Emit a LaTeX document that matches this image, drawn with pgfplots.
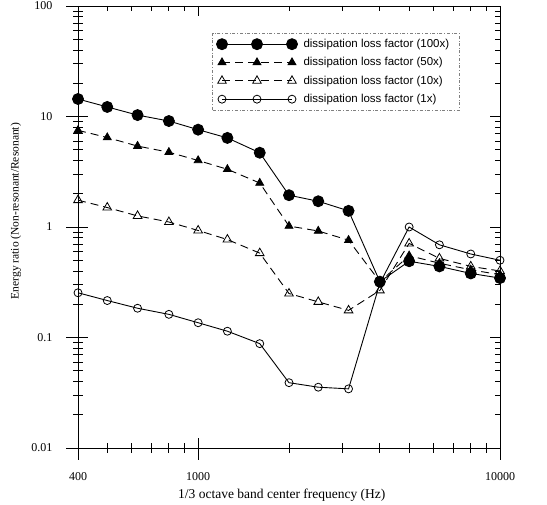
\documentclass[border=0pt]{standalone}
\usepackage{pgfplots}
\pgfplotsset{compat=1.18}
\usepackage{fontspec}
\setmainfont{Liberation Serif}
\newfontfamily\legfont{Liberation Sans}
\begin{document}
\begin{tikzpicture}
\path[use as bounding box] (-78pt,-57pt) rectangle (469pt,448pt);
\begin{axis}[
 at={(0,0)}, anchor=south west,
 scale only axis, width=422pt, height=442pt,
 xmode=log, ymode=log,
 xmin=400, xmax=10000, ymin=0.01, ymax=100,
 xtick={400,1000,10000}, xticklabels={400,1000,10000},
 minor xtick={500,600,700,800,900,2000,3000,4000,5000,6000,7000,8000,9000},
 ytick={0.01,0.1,1,10,100}, yticklabels={0.01,0.1,1,10,100},
 minor ytick={0.02,0.03,0.04,0.05,0.06,0.07,0.08,0.09,0.2,0.3,0.4,0.5,0.6,0.7,0.8,0.9,2,3,4,5,6,7,8,9,20,30,40,50,60,70,80,90},
 xtick pos=bottom, ytick pos=left, tick align=outside,
 major tick length=12pt, minor tick length=5pt,
 tick style={black, line width=0.8pt},
 axis line style={line width=0.9pt},
 ticklabel style={font=\fontsize{12}{13}\selectfont},
 xticklabel style={yshift=-9pt},
 yticklabel style={xshift=-10pt},
 xlabel={1/3 octave band center frequency (Hz)},
 ylabel={Energy ratio (Non-resonant/Resonant)},
 xlabel style={at={(axis description cs:0.483,-0.106)}, anchor=center, font=\fontsize{13.5}{15}\selectfont},
 ylabel style={at={(axis description cs:-0.147,0.536)}, anchor=center, font=\fontsize{11.5}{13}\selectfont},
 legend reversed,
 legend cell align=left,
 legend style={at={(axis description cs:0.318,0.939)}, anchor=north west,
   draw=gray, dash dot, line width=0.6pt, font=\legfont\fontsize{11.5}{13}\selectfont,
   row sep=4.5pt, inner sep=4pt, nodes={inner xsep=6pt}},
 legend image code/.code={\draw[#1] plot coordinates {(0pt,0pt) (35pt,0pt) (70pt,0pt)};},
]
% 1x
\addplot[black, line width=0.9pt, mark=o, mark size=4pt, mark options={solid, line width=0.8pt}] coordinates {
(400,0.254) (500,0.216) (630,0.184) (800,0.162) (1000,0.136) (1250,0.114) (1600,0.088)
(2000,0.039) (2500,0.0355) (3150,0.0343) (4000,0.31) (5000,1.0) (6300,0.69) (8000,0.57) (10000,0.50)};
\addlegendentry{dissipation loss factor (1x)}
% 10x
\addplot[black, line width=0.9pt, dash pattern=on 8pt off 5pt, mark=triangle, mark size=5pt, mark options={solid, fill=white, line width=0.8pt}] coordinates {
(400,1.75) (500,1.50) (630,1.26) (800,1.11) (1000,0.93) (1250,0.77) (1600,0.58)
(2000,0.25) (2500,0.21) (3150,0.176) (4000,0.267) (5000,0.71) (6300,0.52) (8000,0.44) (10000,0.40)};
\addlegendentry{dissipation loss factor (10x)}
% 50x
\addplot[black, line width=0.9pt, dash pattern=on 8pt off 5pt, mark=triangle*, mark size=4.5pt, mark options={solid}] coordinates {
(400,7.5) (500,6.45) (630,5.4) (800,4.75) (1000,4.0) (1250,3.33) (1600,2.5)
(2000,1.02) (2500,0.92) (3150,0.76) (4000,0.32) (5000,0.55) (6300,0.47) (8000,0.41) (10000,0.37)};
\addlegendentry{dissipation loss factor (50x)}
% 100x
\addplot[black, line width=0.9pt, mark=*, mark size=5.5pt, mark options={solid}] coordinates {
(400,14.4) (500,12.2) (630,10.3) (800,9.1) (1000,7.6) (1250,6.4) (1600,4.7)
(2000,1.94) (2500,1.71) (3150,1.40) (4000,0.32) (5000,0.49) (6300,0.44) (8000,0.38) (10000,0.345)};
\addlegendentry{dissipation loss factor (100x)}
\end{axis}
\begin{axis}[
 at={(0,0)}, anchor=south west,
 scale only axis, width=422pt, height=442pt,
 xmode=log, ymode=log,
 xmin=400, xmax=10000, ymin=0.01, ymax=100,
 xtick={400,1000,10000}, xticklabels={},
 minor xtick={500,600,700,800,900,2000,3000,4000,5000,6000,7000,8000,9000},
 ytick={0.01,0.1,1,10,100}, yticklabels={},
 minor ytick={0.02,0.03,0.04,0.05,0.06,0.07,0.08,0.09,0.2,0.3,0.4,0.5,0.6,0.7,0.8,0.9,2,3,4,5,6,7,8,9,20,30,40,50,60,70,80,90},
 xtick pos=both, ytick pos=both, tick align=inside,
 major tick length=10pt, minor tick length=5pt,
 tick style={black, line width=0.8pt},
 axis line style={line width=0.9pt},
]
\end{axis}
\end{tikzpicture}
\end{document}
